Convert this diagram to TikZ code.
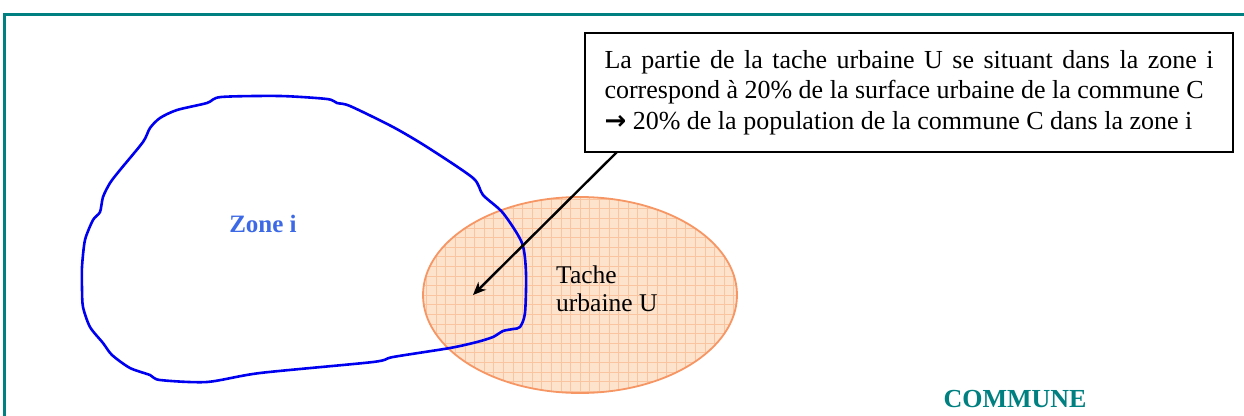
\documentclass[tikz,border=0pt]{standalone}
\usepackage{fontspec}
\setmainfont{Liberation Serif}
\newfontfamily\symfont{DejaVu Sans}
\usetikzlibrary{shapes.geometric,arrows.meta}
\definecolor{frameteal}{RGB}{0,128,128}
\definecolor{zoneblue}{RGB}{0,0,240}
\definecolor{zonetext}{RGB}{60,105,230}
\definecolor{tachefill}{RGB}{253,226,204}
\definecolor{tacheline}{RGB}{246,150,100}
\definecolor{tachegrid}{RGB}{250,196,160}
\begin{document}
\begin{tikzpicture}[x=1pt,y=-1pt,
  notebox/.style={draw=black, line width=2.6pt, rectangle, minimum width=648pt, minimum height=119pt,
    inner xsep=0pt, align=left, font=\fontsize{26}{30.5}\selectfont},
  tachebox/.style={ellipse, draw=tacheline, line width=1.8pt, fill=tachefill, minimum width=314pt, minimum height=196pt, inner sep=0pt,
    path picture={\draw[tachegrid, line width=0.6pt, step=9.6pt] (path picture bounding box.south west) grid (path picture bounding box.north east);}},
  lbl/.style={inner sep=0pt, align=left, font=\fontsize{25.5}{28}\selectfont}]
\useasboundingbox (0,0) rectangle (1244,415);
% frame
\draw[frameteal, line width=3pt] (4,430) -- (4,14) -- (1260,14);
% tache urbaine
\node[tachebox] (tache) at (580,295) {};
% zone i
\draw[zoneblue, line width=2.6pt, line join=round] plot[smooth cycle, tension=0.45] coordinates {
 (221,97) (280,96) (327,99) (337,103) (350,106) (393,127) (427,147) (473,178) (483,195) (503,213)
 (522,243) (526,273) (525,313) (520,327) (513,329) (503,331) (493,337) (477,342) (450,348)
 (393,357) (373,362) (260,373) (207,382) (160,380) (150,375) (130,368) (112,355) (103,343)
 (90,327) (83,307) (82,288) (82,267) (85,240) (93,220) (100,212) (103,197) (110,183) (120,170)
 (143,142) (150,128) (160,118) (177,110) (207,103)};
\node[lbl, font=\fontsize{25}{28}\selectfont\bfseries, text=zonetext] (zone) at (263,224) {Zone i};
\node[lbl, anchor=west] (tachelbl) at (556,289) {Tache\\urbaine U};
% note
\node[notebox] (note) at (909,92.5) {\makebox[609pt][s]{La partie de la tache urbaine U se situant dans la zone i}\\
correspond à 20\% de la surface urbaine de la commune C\\
{\symfont\bfseries →} 20\% de la population de la commune C dans la zone i};
\coordinate (astart) at (617,152);
\coordinate (tip) at (473,295);
\draw[-{Stealth[length=13pt,width=11pt,inset=4pt]}, line width=2.4pt] (astart) -- (tip);
\node[lbl, font=\fontsize{26}{28}\selectfont\bfseries, text=frameteal] (commune) at (1015,399) {COMMUNE};
\end{tikzpicture}
\end{document}
